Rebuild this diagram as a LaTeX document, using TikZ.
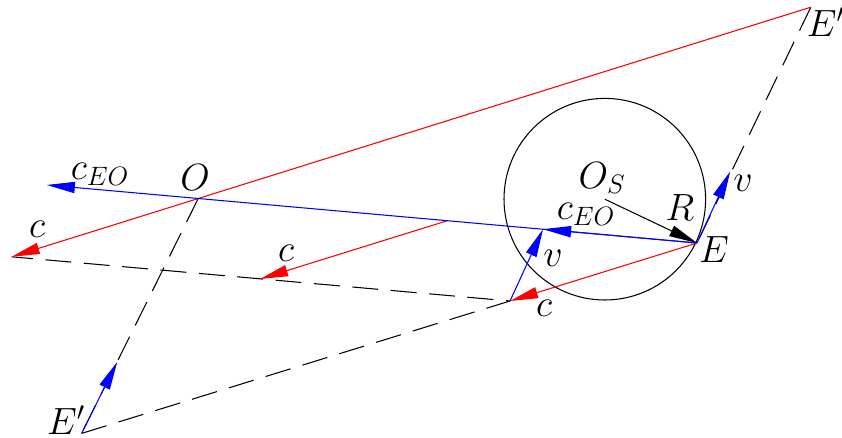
\documentclass[tikz,border=0pt]{standalone}
\usepackage{fix-cm}
\usepackage{amsmath}
\usepackage{tikz}
\usetikzlibrary{arrows.meta}
\tikzstyle{point}=[shape=coordinate]
\tikzstyle{lbl}=[font=\fontsize{27}{32}\selectfont, inner sep=0mm, outer sep=0mm]
\tikzstyle{dashed edge}=[-, draw=black, line width=0.75pt,
        dash pattern=on 18.5pt off 8.9pt]
\tikzstyle{red edge}=[-{Triangle[length=20pt,width=8pt]}, draw={rgb,255: red,255; green,0; blue,0},
line width=0.75pt]
\tikzstyle{blue edge}=[-{Triangle[length=20pt,width=8pt]}, draw={rgb,255: red,0; green,0; blue,255},
line width=0.75pt]
\tikzstyle{black edge}=[-{Triangle[length=20pt,width=8pt]}, draw=black, line width=0.75pt]

\begin{document}
\begin{tikzpicture}
            \useasboundingbox (0, 0) rectangle (21.05, 10.95);

            \node [style=point] (0) at (17.425, 4.875) {};
            \node [style=point] (1) at (20.27, 10.77) {};
            \node [style=point] (2) at (0.29, 4.53) {};
            \node [style=point] (3) at (4.955, 5.985) {};
            \node [style=point] (4) at (1.17, 6.325) {};
            \node [style=point] (5) at (12.75, 3.425) {};
            \node [style=point] (6) at (13.575, 5.22) {};
            \node [style=point] (7) at (2.04, 0.115) {};
            \node [style=point] (8) at (11.175, 5.43) {};
            \node [style=point] (9) at (6.5, 3.975) {};
            \node [style=point] (10) at (18.255, 6.665) {};
            \node [style=point] (11) at (2.93, 1.9) {};
            \node [style=point] (12) at (15.12, 5.97) {};

            \node [style=lbl, anchor=west] (20) at (20.17, 10.4) {$E'$};
            \node [style=lbl] (21) at (17.85, 4.7) {$E$};
            \node [style=lbl] (22) at (15.05, 6.5) {$O_S$};
            \node [style=lbl] (23) at (17.0, 5.75) {$R$};
            \node [style=lbl] (24) at (14.65, 5.6) {$c_{EO}$};
            \node [style=lbl] (25) at (13.825, 4.5) {$v$};
            \node [style=lbl] (26) at (18.575, 6.375) {$v$};
            \node [style=lbl] (27) at (13.6, 3.25) {$c$};
            \node [style=lbl] (28) at (7.15, 4.625) {$c$};
            \node [style=lbl] (29) at (0.925, 5.225) {$c$};
            \node [style=lbl] (30) at (2.5, 6.6) {$c_{EO}$};
            \node [style=lbl] (31) at (4.875, 6.5) {$O$};
            \node [style=lbl] (32) at (1.65, 0.45) {$E'$};

            \draw [style=dashed edge, dash phase=3.3pt] (2) to (5);
            \draw [style=dashed edge] (7) to (5);
            \draw [style=dashed edge] (3) to (7);
            \draw [style=dashed edge] (1) to (0);

            \draw [line width=0.75pt] (12) circle (2.52);
            \draw [style=black edge] (12) to (0);

            \draw [style=red edge] (1) to (2);
            \draw [style=red edge] (0) to (5);
            \draw [style=red edge] (8) to (9);

            \draw [style=blue edge] (0) to (4);
            \draw [style=blue edge] (0) to (6);
            \draw [style=blue edge] (5) to (6);
            \draw [style=blue edge] (0) to (10);
            \draw [style=blue edge] (7) to (11);
    \end{tikzpicture}
\end{document}
